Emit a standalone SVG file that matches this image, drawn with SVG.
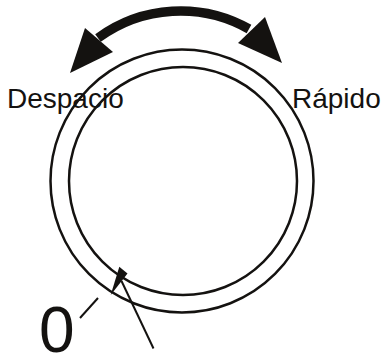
<svg xmlns="http://www.w3.org/2000/svg" width="386" height="356" viewBox="0 0 386 356">
<style>
.ln{fill:none;stroke:#141210;stroke-width:2.5}
.fl{fill:#141210;stroke:none}
.t{font-family:"Liberation Sans",Arial,sans-serif;fill:#141210}
</style>
<rect width="386" height="356" fill="#fff"/>
<g id="dial">
<circle class="ln" cx="182" cy="181" r="131.5"/>
<circle class="ln" cx="183" cy="181" r="114"/>
</g>
<g id="speed-arrow">
<path d="M 98 38 A 139.5 139.5 0 0 1 249 29" fill="none" stroke="#141210" stroke-width="9.5"/>
<polygon class="fl" points="70,73 85,28 113,52"/>
<polygon class="fl" points="282,63 265,17 238,43"/>
</g>
<g id="pointer">
<polygon class="fl" points="119.3,266.7 127.5,273.5 110.7,295"/>
<line x1="121.5" y1="281" x2="153.5" y2="348.5" stroke="#141210" stroke-width="2"/>
<line x1="80" y1="318" x2="98" y2="298" stroke="#141210" stroke-width="2"/>
</g>
<g id="labels">
<text class="t" x="7" y="108" font-size="28">Despacio</text>
<text class="t" x="292" y="108" font-size="28">Rápido</text>
<text class="t" x="39" y="352" font-size="64">0</text>
</g>
</svg>
